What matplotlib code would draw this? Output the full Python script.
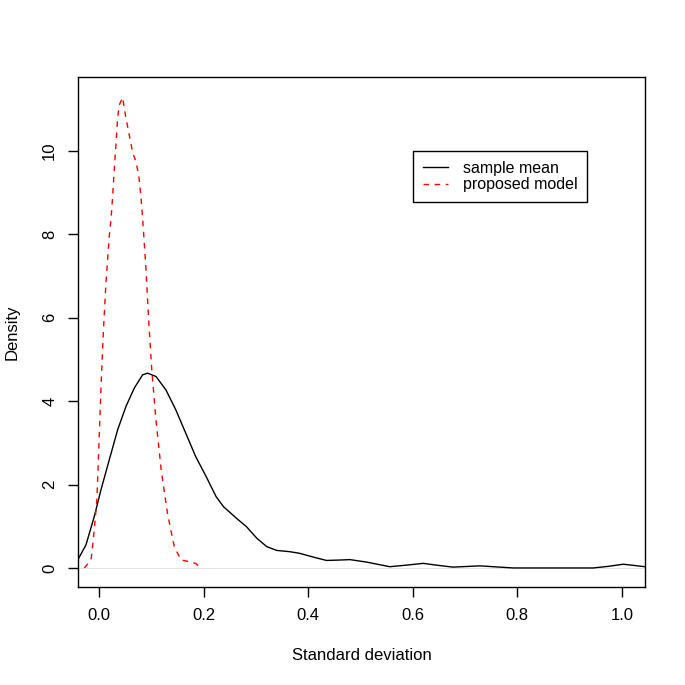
import numpy as np
import matplotlib
matplotlib.use("Agg")
import matplotlib.pyplot as plt

plt.rcParams['font.family'] = ['Liberation Sans', 'DejaVu Sans']

# sample mean density
mean_x = [-0.0389, -0.0249, -0.009, 0.0038, 0.0197, 0.0357, 0.0516, 0.0675,
          0.0835, 0.093, 0.109, 0.128, 0.147, 0.166, 0.185, 0.205, 0.224,
          0.238, 0.263, 0.282, 0.302, 0.321, 0.340, 0.365, 0.384, 0.410,
          0.435, 0.461, 0.480, 0.512, 0.556, 0.590, 0.620, 0.650, 0.677,
          0.728, 0.792, 0.945, 0.975, 1.0025, 1.044]
mean_y = [0.23, 0.55, 1.23, 1.87, 2.59, 3.31, 3.87, 4.31,
          4.63, 4.67, 4.59, 4.27, 3.79, 3.23, 2.67, 2.19, 1.71,
          1.47, 1.19, 0.99, 0.71, 0.51, 0.42, 0.39, 0.35, 0.26,
          0.18, 0.19, 0.20, 0.14, 0.03, 0.07, 0.11, 0.06, 0.02,
          0.05, 0.0, 0.0, 0.04, 0.09, 0.03]

# proposed model density
model_x = [-0.028, -0.015, -0.009, -0.004, -0.0006, 0.004, 0.008, 0.013,
           0.0197, 0.023, 0.026, 0.029, 0.0325, 0.0357, 0.0389, 0.0453,
           0.0516, 0.058, 0.064, 0.0707, 0.076, 0.080, 0.0835, 0.09, 0.095,
           0.101, 0.109, 0.119, 0.131, 0.144, 0.157, 0.173, 0.185, 0.195]
model_y = [0.0, 0.19, 0.91, 1.63, 2.75, 4.35, 5.55, 6.75,
           7.95, 8.35, 8.87, 9.5, 10.14, 10.78, 11.1, 11.28,
           10.78, 10.38, 9.98, 9.74, 9.42, 8.94, 8.39, 7.15, 5.95,
           4.75, 3.55, 2.35, 1.31, 0.51, 0.19, 0.15, 0.11, 0.0]

xticks = [0.0, 0.2, 0.4, 0.6, 0.8, 1.0]
yticks = [0, 2, 4, 6, 8, 10]

fig = plt.figure(figsize=(6.85, 6.85), dpi=100)
ax = fig.add_axes([0.1139, 0.1431, 0.8277, 0.7445])

ax.axhline(0, color='#d8d8d8', lw=0.5, zorder=1)
ax.plot(mean_x, mean_y, color='black', lw=1.0, label='sample mean')
ax.plot(model_x, model_y, color='red', lw=1.0, dashes=(4, 4), label='proposed model')

ax.set_xlim(-0.04, 1.044)
ax.set_ylim(-0.456, 11.77)
ax.set_xticks(xticks)
ax.set_xticklabels(['%.1f' % v for v in xticks])
ax.set_yticks(yticks)
ax.set_yticklabels([str(v) for v in yticks], rotation=90, va='center')
ax.tick_params(length=7, width=1, labelsize=12, pad=8)

for s in ax.spines.values():
    s.set_linewidth(1.0)
ax.set_xlabel('Standard deviation', fontsize=12, labelpad=18)
ax.set_ylabel('Density', fontsize=12, labelpad=16)

leg = ax.legend(loc='upper left', bbox_to_anchor=(0.591, 0.855), fontsize=11.5,
                frameon=True, fancybox=False, edgecolor='black', framealpha=1,
                handlelength=1.6, handletextpad=0.9, borderpad=0.6,
                labelspacing=0.1, borderaxespad=0)
leg.get_frame().set_linewidth(1.0)

fig.savefig('out.png', dpi=100)
